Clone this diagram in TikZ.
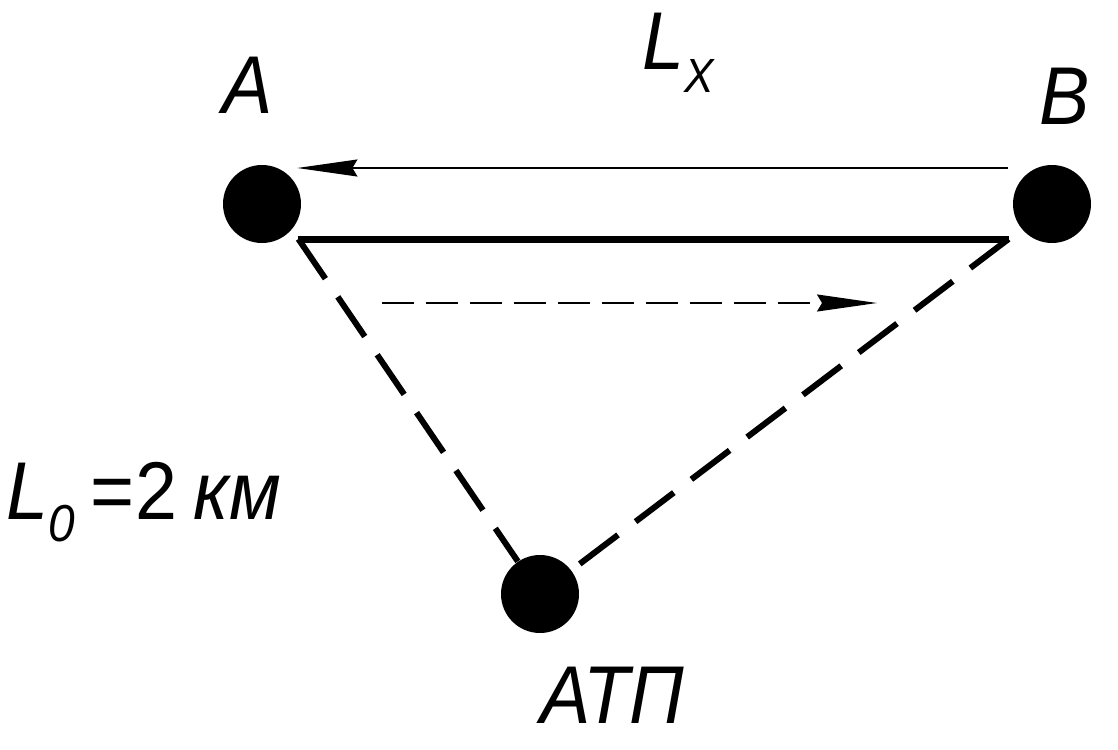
\documentclass[tikz,border=0pt]{standalone}
\usepackage{fontspec}
\setmainfont{Liberation Sans}
\newfontfamily\lblfont[FakeStretch=0.92]{Liberation Sans}
\usetikzlibrary{arrows.meta}
\newcommand{\lsub}[3]{\raisebox{#1}{\fontsize{#2}{#2}\selectfont #3}}
\tikzset{
  pt_dot/.style = {circle, fill=black, inner sep=0pt, minimum size=39pt},
  lbl/.style = {font=\lblfont\fontsize{41}{41}\selectfont\itshape, inner sep=0pt},
  arr_thin/.style = {line width=0.8pt,
    -{Stealth[length=30pt, width=8.5pt, inset=2.5pt]}},
  road/.style = {line width=3.5pt},
  road_d/.style = {line width=3pt, dash pattern=on 24pt off 11pt}
}
\begin{document}
\begin{tikzpicture}[x=0.5pt, y=-0.5pt]
\useasboundingbox (0,0) rectangle (1118,749);
% points
\node [pt_dot] (A) at (262,204) {};
\node [pt_dot] (B) at (1052,204) {};
\node [pt_dot] (atp) at (540,594) {};
% labels
\node [lbl, anchor=base] (lA) at (248,113) {A};
\node [lbl, anchor=base] (lB) at (1065,125) {B};
\node [lbl, anchor=base] (lP) at (612,723) {АТП};
\node [lbl, anchor=base west] (lx) at (642,70) {L\lsub{-11.5pt}{24}{X}};
\node [lbl, anchor=base west] (l0) at (6,519)
  {L\lsub{-11pt}{26}{0}\hspace{8pt}{\upshape =2}\hspace{-2pt} км};
% ends of the lines
\coordinate (A1) at ([shift={(-3,35)}]A.east);
\coordinate (B1) at ([shift={(-4,35)}]B.west);
\coordinate (s1) at (382,303);
\coordinate (s2) at (877,303);
% connections
\draw [arr_thin] ([shift={(-5,-36)}]B.west) -- ([shift={(-4,-36)}]A.east);
\draw [road] (A1) -- (B1);
\draw [road_d] (A1) -- (atp);
\draw [road_d] (B1) -- (atp);
\draw [arr_thin, dash pattern=on 16pt off 6pt] (s1) -- (s2);

\end{tikzpicture}
\end{document}
